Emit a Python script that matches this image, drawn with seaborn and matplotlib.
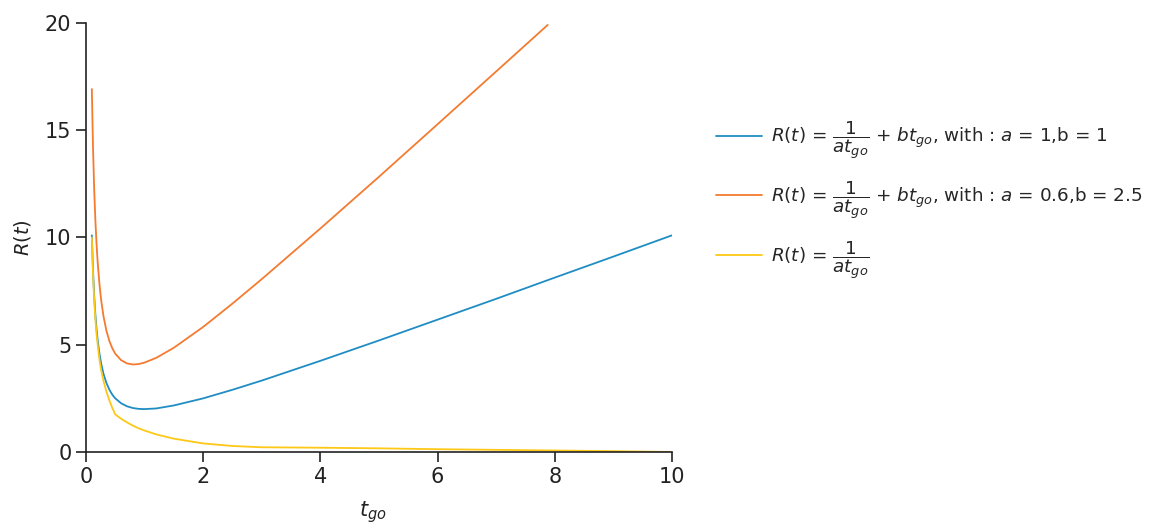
import matplotlib
matplotlib.use("Agg")
import matplotlib.pyplot as plt
import seaborn as sns
import pandas as pd

# Time-to-go samples and R(t) values for each curve
t_blue = [0.1, 0.12, 0.14, 0.16, 0.18, 0.2, 0.23, 0.26, 0.3, 0.35, 0.4, 0.45, 0.5,
          0.6, 0.7, 0.8, 0.9, 1.0, 1.2, 1.5, 2.0, 2.5, 3.0, 4.0, 5.0, 6.0, 7.0, 8.0, 9.0, 10.0]
r_blue = [10.1, 8.45, 7.28, 6.41, 5.74, 5.2, 4.58, 4.11, 3.63, 3.21, 2.9, 2.67, 2.5,
          2.27, 2.13, 2.05, 2.01, 2.0, 2.03, 2.17, 2.5, 2.9, 3.33, 4.25, 5.2, 6.17, 7.14, 8.13, 9.11, 10.1]

t_orange = [0.1, 0.12, 0.14, 0.16, 0.18, 0.2, 0.23, 0.26, 0.3, 0.35, 0.4, 0.45, 0.5,
            0.6, 0.7, 0.8, 0.9, 1.0, 1.2, 1.5, 2.0, 2.5, 3.0, 4.0, 5.0, 6.0, 7.0, 7.88]
r_orange = [16.92, 14.19, 12.25, 10.82, 9.71, 8.83, 7.82, 7.06, 6.31, 5.64, 5.17, 4.83, 4.58,
            4.28, 4.13, 4.08, 4.10, 4.17, 4.39, 4.86, 5.83, 6.92, 8.06, 10.42, 12.83, 15.28, 17.74, 19.91]

t_yellow = [0.1, 0.12, 0.14, 0.16, 0.18, 0.2, 0.23, 0.26, 0.3, 0.35, 0.4, 0.45, 0.5,
            0.6, 0.7, 0.8, 0.9, 1.0, 1.2, 1.5, 2.0, 2.5, 3.0, 4.0, 5.0, 6.0, 7.0, 8.0, 9.0, 10.0]
r_yellow = [10.0, 8.3, 7.1, 6.2, 5.5, 5.0, 4.3, 3.8, 3.3, 2.8, 2.4, 2.05, 1.75,
            1.55, 1.38, 1.23, 1.1, 1.0, 0.82, 0.62, 0.4, 0.28, 0.22, 0.2, 0.17, 0.13, 0.1, 0.07, 0.04, 0.0]

labels = [
    r"$R(t)$ = $\dfrac{1}{at_{go}}$ + $bt_{go}$, with : $a$ = 1,b = 1",
    r"$R(t)$ = $\dfrac{1}{at_{go}}$ + $bt_{go}$, with : $a$ = 0.6,b = 2.5",
    r"$R(t)$ = $\dfrac{1}{at_{go}}$",
]
colors = ["#1f8dc3", "#f47b30", "#fdc816"]

df = pd.concat([
    pd.DataFrame({"t": t_blue, "R": r_blue, "curve": labels[0]}),
    pd.DataFrame({"t": t_orange, "R": r_orange, "curve": labels[1]}),
    pd.DataFrame({"t": t_yellow, "R": r_yellow, "curve": labels[2]}),
])

sns.set_theme(style="ticks")
plt.rcParams["font.family"] = ["DejaVu Sans"]
plt.rcParams["mathtext.fontset"] = "dejavusans"

fig = plt.figure(figsize=(11.51, 5.26), dpi=100)
ax = fig.add_axes([0.0747, 0.1407, 0.5091, 0.8156])

sns.lineplot(data=df, x="t", y="R", hue="curve", palette=colors, sort=False,
             linewidth=1.3, ax=ax, legend=True)

ax.set_xlim(0, 10)
ax.set_ylim(0, 20)
ax.set_xticks([0, 2, 4, 6, 8, 10])
ax.set_yticks([0, 5, 10, 15, 20])
ax.tick_params(axis="both", labelsize=15, length=7, width=1.2, colors="#222222",
               labelcolor="#222222")
for side in ["top", "right"]:
    ax.spines[side].set_visible(False)
for side in ["left", "bottom"]:
    ax.spines[side].set_linewidth(1.2)
    ax.spines[side].set_color("#222222")

ax.set_xlabel(r"$t_{go}$", fontsize=15, color="#222222")
ax.set_ylabel(r"$R(t)$", fontsize=14, color="#222222")
ax.xaxis.set_label_coords(0.49, -0.11)
ax.yaxis.set_label_coords(-0.09, 0.5)

handles, lbls = ax.get_legend_handles_labels()
ax.get_legend().remove()
fig.legend(handles, lbls, loc="center left", bbox_to_anchor=(0.608, 0.62),
           frameon=False, fontsize=13.2, handlelength=2.5, labelspacing=0.98,
           handletextpad=0.5)

fig.savefig("out.png", dpi=100)
